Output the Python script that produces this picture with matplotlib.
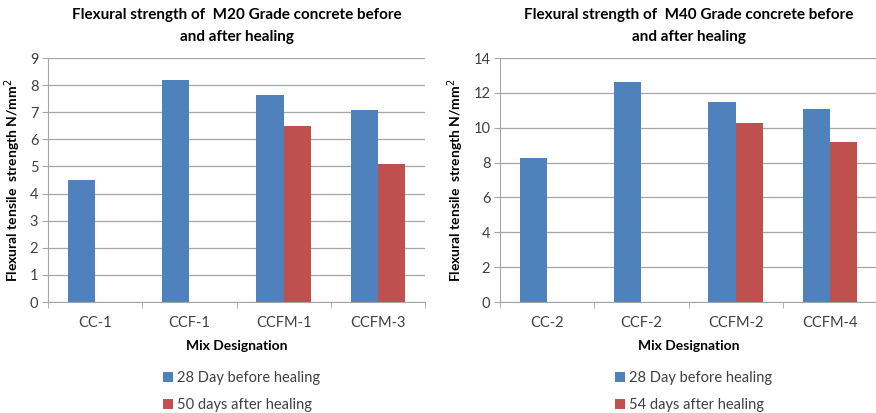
import numpy as np
import matplotlib.pyplot as plt

plt.rcParams['font.family'] = ['Lato', 'DejaVu Sans']

# data
mixes_m20 = ['CC-1', 'CCF-1', 'CCFM-1', 'CCFM-3']
before_m20 = [4.5, 8.2, 7.65, 7.1]
after_m20 = [np.nan, np.nan, 6.5, 5.1]

mixes_m40 = ['CC-2', 'CCF-2', 'CCFM-2', 'CCFM-4']
before_m40 = [8.25, 12.6, 11.45, 11.05]
after_m40 = [np.nan, np.nan, 10.25, 9.2]

blue = '#4f81bd'
red = '#c0504d'
grey = '#a6a6a6'
W, H = 876, 413

fig = plt.figure(figsize=(8.76, 4.13), dpi=100)


def panel(x0, mixes, before, after, ymax, ystep, title, after_label):
    ax = fig.add_axes([x0 / W, (H - 302) / H, 377 / W, 244 / H])
    x = np.arange(len(mixes))
    w = 0.29
    b1 = ax.bar(x - w / 2, before, w, color=blue, zorder=3, label='28 Day before healing')
    b2 = ax.bar(x + w / 2, after, w, color=red, zorder=3, label=after_label)
    ax.set_xlim(-0.5, len(mixes) - 0.5)
    ax.set_ylim(0, ymax)
    ax.set_yticks(np.arange(0, ymax + 0.1, ystep))
    ax.yaxis.grid(True, color=grey, linewidth=0.9, zorder=0)
    ax.set_xticks(x)
    ax.set_xticklabels(mixes)
    ax.set_xticks(np.arange(-0.5, len(mixes), 1), minor=True)
    ax.tick_params(axis='x', which='major', length=0, pad=10, labelsize=10.5, labelcolor='#404040')
    ax.tick_params(axis='x', which='minor', length=4, color=grey, direction='out')
    ax.tick_params(axis='y', length=4, color=grey, labelsize=10.5, labelcolor='#404040', pad=3)
    for s in ['top', 'right']:
        ax.spines[s].set_visible(False)
    for s in ['left', 'bottom']:
        ax.spines[s].set_color(grey)
    ax.set_xlabel('Mix Designation', fontsize=10, fontweight='bold', labelpad=7)
    ax.set_ylabel('Flexural tensile  strength N/mm$^2$', fontsize=10, fontweight='bold', labelpad=5)
    ax.set_title(title, fontsize=11, fontweight='bold', pad=12, linespacing=1.75)
    ax.legend(handles=[b1, b2], loc='upper left', bbox_to_anchor=(0.27, -0.23),
              frameon=False, fontsize=10.5, handlelength=0.7, handleheight=0.7,
              handletextpad=0.3, labelspacing=0.9, labelcolor='#404040')
    return ax


panel(48, mixes_m20, before_m20, after_m20, 9, 1,
      'Flexural strength of  M20 Grade concrete before\nand after healing', '50 days after healing')
panel(500, mixes_m40, before_m40, after_m40, 14, 2,
      'Flexural strength of  M40 Grade concrete before\nand after healing', '54 days after healing')

plt.savefig('out.png', dpi=100)
